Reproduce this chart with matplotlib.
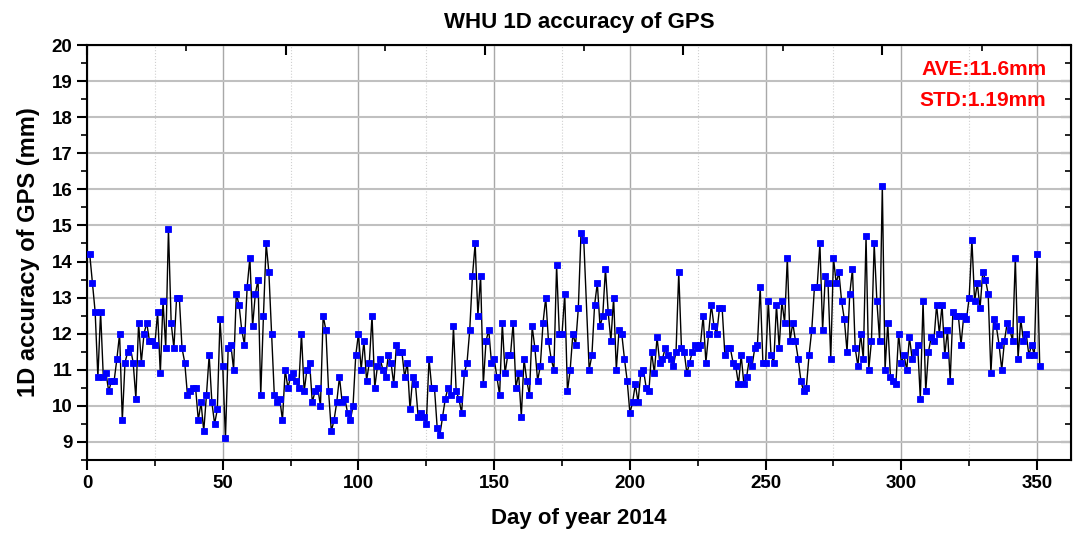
import numpy as np
import matplotlib.pyplot as plt
from matplotlib.ticker import MultipleLocator

# daily 1D accuracy (mm), day of year 2014; day 184 has no solution
acc_1_60 = [14.2, 13.4, 12.6, 10.8, 12.6, 10.8, 10.9, 10.4, 10.7, 10.7,
            11.3, 12.0, 9.6, 11.2, 11.5, 11.6, 11.2, 10.2, 12.3, 11.2,
            12.0, 12.3, 11.8, 11.8, 11.7, 12.6, 10.9, 12.9, 11.6, 14.9,
            12.3, 11.6, 13.0, 13.0, 11.6, 11.2, 10.3, 10.4, 10.5, 10.5,
            9.6, 10.1, 9.3, 10.3, 11.4, 10.1, 9.5, 9.9, 12.4, 11.1,
            9.1, 11.6, 11.7, 11.0, 13.1, 12.8, 12.1, 11.7, 13.3, 14.1]
acc_61_120 = [12.2, 13.1, 13.5, 10.3, 12.5, 14.5, 13.7, 12.0, 10.3, 10.1,
              10.2, 9.6, 11.0, 10.5, 10.8, 10.9, 10.7, 10.5, 12.0, 10.4,
              11.0, 11.2, 10.1, 10.4, 10.5, 10.0, 12.5, 12.1, 10.4, 9.3,
              9.6, 10.1, 10.8, 10.1, 10.2, 9.8, 9.6, 10.0, 11.4, 12.0,
              11.0, 11.8, 10.7, 11.2, 12.5, 10.5, 11.1, 11.3, 11.0, 10.8,
              11.4, 11.2, 10.6, 11.7, 11.5, 11.5, 10.8, 11.2, 9.9, 10.8]
acc_121_183 = [10.6, 9.7, 9.8, 9.7, 9.5, 11.3, 10.5, 10.5, 9.4, 9.2,
               9.7, 10.2, 10.5, 10.3, 12.2, 10.4, 10.2, 9.8, 10.9, 11.2,
               12.1, 13.6, 14.5, 12.5, 13.6, 10.6, 11.8, 12.1, 11.2, 11.3,
               10.8, 10.3, 12.3, 10.9, 11.4, 11.4, 12.3, 10.5, 10.9, 9.7,
               11.3, 10.7, 10.3, 12.2, 11.6, 10.7, 11.1, 12.3, 13.0, 11.8,
               11.3, 11.0, 13.9, 12.0, 12.0, 13.1, 10.4, 11.0, 12.0, 11.7,
               12.7, 14.8, 14.6]
acc_185_249 = [11.0, 11.4, 12.8, 13.4, 12.2, 12.5, 13.8, 12.6, 11.8, 13.0,
               11.0, 12.1, 12.0, 11.3, 10.7, 9.8, 10.1, 10.6, 10.1, 10.9,
               11.0, 10.5, 10.4, 11.5, 10.9, 11.9, 11.2, 11.3, 11.6, 11.4,
               11.3, 11.1, 11.5, 13.7, 11.6, 11.5, 10.9, 11.2, 11.5, 11.7,
               11.6, 11.7, 12.5, 11.2, 12.0, 12.8, 12.2, 12.0, 12.7, 12.7,
               11.4, 11.6, 11.6, 11.2, 11.1, 10.6, 11.4, 10.6, 10.8, 11.3,
               11.1, 11.6, 11.7, 13.3, 11.2]
acc_250_311 = [11.2, 12.9, 11.4, 11.2, 12.8, 11.6, 12.9, 12.3, 14.1, 11.8,
               12.3, 11.8, 11.3, 10.7, 10.4, 10.5, 11.4, 12.1, 13.3, 13.3,
               14.5, 12.1, 13.6, 13.4, 11.3, 14.1, 13.4, 13.7, 12.9, 12.4,
               11.5, 13.1, 13.8, 11.6, 11.1, 12.0, 11.3, 14.7, 11.0, 11.8,
               14.5, 12.9, 11.8, 16.1, 11.0, 12.3, 10.8, 10.7, 10.6, 12.0,
               11.2, 11.4, 11.0, 11.9, 11.3, 11.5, 11.7, 10.2, 12.9, 10.4,
               11.5, 11.9]
acc_312_351 = [11.8, 12.8, 12.0, 12.8, 11.4, 12.1, 10.7, 12.6, 12.5, 12.5,
               11.7, 12.5, 12.4, 13.0, 14.6, 12.9, 13.4, 12.7, 13.7, 13.5,
               13.1, 10.9, 12.4, 12.2, 11.7, 11.0, 11.8, 12.3, 12.1, 11.8,
               14.1, 11.3, 12.4, 11.8, 12.0, 11.4, 11.7, 11.4, 14.2, 11.1]

days = [d for d in range(1, 352) if d != 184]
acc = acc_1_60 + acc_61_120 + acc_121_183 + acc_185_249 + acc_250_311 + acc_312_351

plt.rcParams['font.family'] = ['Liberation Sans', 'DejaVu Sans']
plt.rcParams['font.weight'] = 'bold'

fig = plt.figure(figsize=(10.77, 5.37), dpi=100)
ax = fig.add_axes([0.0808, 0.1434, 0.9136, 0.7728])

ax.plot(days, acc, color='black', lw=1.0, marker='s', ms=4, mew=0.6,
        mfc='#0000ff', mec='#0000ff', zorder=3)

ax.set_xlim(0, 362.5)
ax.set_ylim(8.5, 20)
ax.xaxis.set_major_locator(MultipleLocator(50))
ax.xaxis.set_minor_locator(MultipleLocator(25))
ax.yaxis.set_major_locator(MultipleLocator(1))
ax.yaxis.set_minor_locator(MultipleLocator(0.5))

ax.grid(which='major', axis='y', color='#c0c0c0', lw=1.5)
ax.grid(which='major', axis='x', color='#a8a8a8', lw=1.0)
ax.grid(which='minor', axis='x', color='#d0d0d0', lw=0.8, ls=':')
ax.set_axisbelow(True)

for s in ax.spines.values():
    s.set_linewidth(1.5)

ax.tick_params(axis='both', which='major', direction='out', length=7,
               width=1.5, labelsize=13.5)
ax.tick_params(axis='both', which='minor', direction='out', length=4, width=1.2)

# top and right axes: ticks only
top = ax.secondary_xaxis('top')
top.set_xticks([0, 73.2, 146.5, 219.7, 293.0])
top.set_xticks([36.6, 109.9, 183.1, 256.3, 329.6], minor=True)
top.tick_params(which='major', direction='in', length=7, width=1.5, labeltop=False)
top.tick_params(which='minor', direction='in', length=4, width=1.2)
right = ax.secondary_yaxis('right')
right.yaxis.set_major_locator(MultipleLocator(1))
right.yaxis.set_minor_locator(MultipleLocator(0.5))
right.tick_params(which='major', direction='in', length=7, width=1.5, labelright=False)
right.tick_params(which='minor', direction='in', length=4, width=1.2)

ax.set_title("WHU 1D accuracy of GPS", fontsize=16, fontweight='bold', pad=12)
ax.set_xlabel("Day of year 2014", fontsize=16, fontweight='bold', labelpad=12)
ax.set_ylabel("1D accuracy of GPS (mm)", fontsize=17, fontweight='bold', labelpad=8)

ax.text(0.975, 0.965, "AVE:11.6mm", transform=ax.transAxes, ha='right', va='top',
        color='red', fontsize=15, fontweight='bold')
ax.text(0.975, 0.89, "STD:1.19mm", transform=ax.transAxes, ha='right', va='top',
        color='red', fontsize=15, fontweight='bold')

fig.savefig('out.png', dpi=100)
